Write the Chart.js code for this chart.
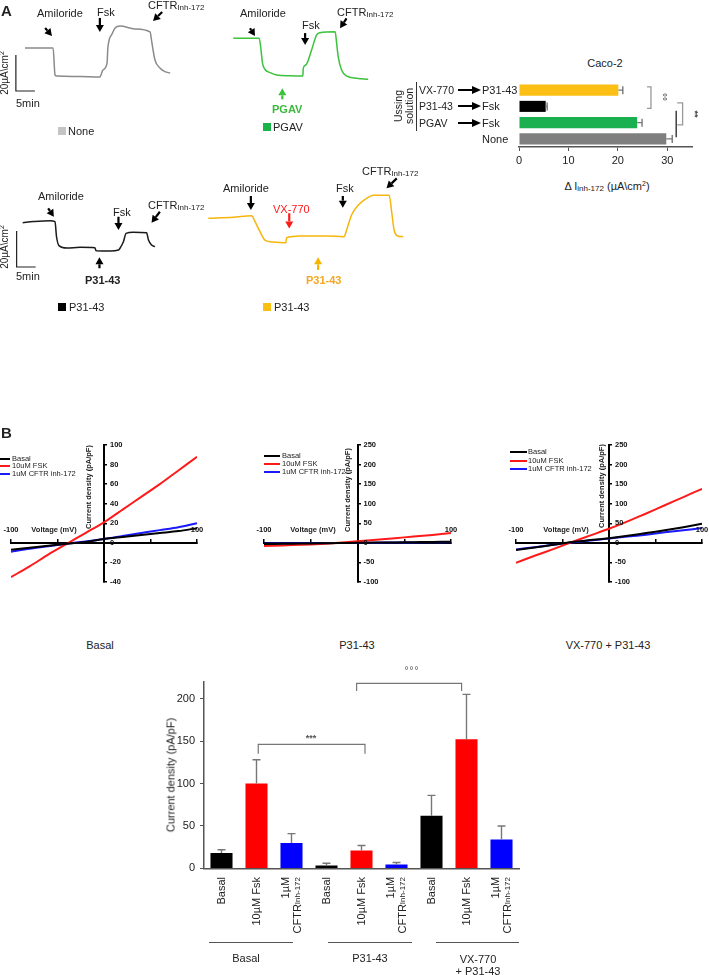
<!DOCTYPE html>
<html>
<head>
<meta charset="utf-8">
<script src="https://cdn.jsdelivr.net/npm/chart.js@4.4.1/dist/chart.umd.min.js"></script>
<style>
body { margin: 0; background: #fff; font-family: "Liberation Sans", Arial, sans-serif; color: #222; }
#fig { position: relative; width: 709px; height: 975px; overflow: hidden; }
canvas { position: absolute; }
.t { position: absolute; white-space: nowrap; font-size: 11px; line-height: 1; transform: translateY(-50%); }
.c { transform: translate(-50%, -50%); }
.rot { transform: translate(-50%, -50%) rotate(-90deg); }
.rot90 { transform: translate(-50%, -50%) rotate(90deg); }
.b { font-weight: bold; }
.s { font-size: 8px; vertical-align: -1px; }
sup { font-size: 7px; vertical-align: 4px; line-height: 0; }
.sq { position: absolute; width: 8px; height: 8px; }
.sw { position: absolute; height: 2px; }
.iv { font-size: 7.5px; }
.ivb { font-size: 7.5px; font-weight: bold; }
.vl { position: absolute; top: 877px; writing-mode: vertical-rl; text-align: end; font-size: 11px; line-height: 1.05; white-space: nowrap; transform: translateX(-50%) rotate(180deg); }
.gl { position: absolute; top: 942px; height: 1px; background: #555; }
.us { font-size: 10.5px; }
svg.ar { position: absolute; }
</style>
</head>
<body>
<div id="fig">
  <canvas id="tr1" width="220" height="120" style="left:0;top:0"></canvas>
  <canvas id="tr2" width="220" height="120" style="left:220px;top:0"></canvas>
  <canvas id="tr3" width="220" height="120" style="left:0;top:170px"></canvas>
  <canvas id="tr4" width="220" height="120" style="left:200px;top:170px"></canvas>
  <canvas id="hbar" width="209" height="105" style="left:500px;top:70px"></canvas>
  <canvas id="iv1" width="210" height="160" style="left:0;top:435px"></canvas>
  <canvas id="iv2" width="215" height="160" style="left:250px;top:435px"></canvas>
  <canvas id="iv3" width="209" height="160" style="left:500px;top:435px"></canvas>
  <canvas id="bars" width="380" height="210" style="left:150px;top:670px"></canvas>

  <!-- panel A, trace 1 -->
  <div class="t b" style="left:1px;top:10px;font-size:15px">A</div>
  <div class="t" style="left:37px;top:13px">Amiloride</div>
  <div class="t" style="left:97px;top:12px">Fsk</div>
  <div class="t" style="left:148px;top:6px">CFTR<span class="s">Inh-172</span></div>
  <div class="t rot" style="left:5px;top:73px;font-size:10px">20µA\cm<sup>2</sup></div>
  <div class="t" style="left:16px;top:103px">5min</div>
  <div class="sq" style="left:58px;top:127px;background:#c4c4c4"></div>
  <div class="t" style="left:68px;top:131px">None</div>

  <!-- trace 2 -->
  <div class="t" style="left:240px;top:13px">Amiloride</div>
  <div class="t" style="left:302px;top:25px">Fsk</div>
  <div class="t" style="left:337px;top:13px">CFTR<span class="s">Inh-172</span></div>
  <div class="t b" style="left:272px;top:109px;color:#3cb83c">PGAV</div>
  <div class="sq" style="left:263px;top:123px;background:#19b34a"></div>
  <div class="t" style="left:273px;top:127px">PGAV</div>

  <!-- Ussing bar chart -->
  <div class="t c" style="left:605px;top:63px">Caco-2</div>
  <div class="t rot us" style="left:398px;top:106px">Ussing</div>
  <div class="t rot us" style="left:409px;top:106px">solution</div>
  <div style="position:absolute;left:416px;top:82px;width:1px;height:49px;background:#333"></div>
  <div class="t us" style="left:419px;top:90px">VX-770</div>
  <div class="t us" style="left:419px;top:106px">P31-43</div>
  <div class="t us" style="left:419px;top:123px">PGAV</div>
  <svg class="ar" style="left:458px;top:86px" width="23" height="8"><path d="M0 4H15" stroke="#000" stroke-width="2"/><path d="M14 0L23 4L14 8Z"/></svg>
  <svg class="ar" style="left:458px;top:102px" width="23" height="8"><path d="M0 4H15" stroke="#000" stroke-width="2"/><path d="M14 0L23 4L14 8Z"/></svg>
  <svg class="ar" style="left:458px;top:119px" width="23" height="8"><path d="M0 4H15" stroke="#000" stroke-width="2"/><path d="M14 0L23 4L14 8Z"/></svg>
  <div class="t" style="left:482px;top:90px">P31-43</div>
  <div class="t" style="left:482px;top:106px">Fsk</div>
  <div class="t" style="left:482px;top:123px">Fsk</div>
  <div class="t" style="left:482px;top:139px">None</div>
  <div class="t rot90 b" style="left:662px;top:97px;font-size:10px;color:#555">°°</div>
  <div class="t rot90 b" style="left:694px;top:114px;font-size:9px;color:#444">**</div>
  <div class="t c" style="left:607px;top:187px">Δ I<span class="s">inh-172</span> (µA\cm<sup>2</sup>)</div>

  <!-- trace 3 -->
  <div class="t" style="left:38px;top:196px">Amiloride</div>
  <div class="t" style="left:113px;top:212px">Fsk</div>
  <div class="t" style="left:148px;top:206px">CFTR<span class="s">Inh-172</span></div>
  <div class="t b" style="left:85px;top:280px">P31-43</div>
  <div class="t rot" style="left:5px;top:247px;font-size:10px">20µA\cm<sup>2</sup></div>
  <div class="t" style="left:16px;top:276px">5min</div>
  <div class="sq" style="left:58px;top:303px;background:#000"></div>
  <div class="t" style="left:69px;top:307px">P31-43</div>

  <!-- trace 4 -->
  <div class="t" style="left:223px;top:188px">Amiloride</div>
  <div class="t" style="left:273px;top:209px;color:#ff1a1a">VX-770</div>
  <div class="t" style="left:336px;top:188px">Fsk</div>
  <div class="t" style="left:362px;top:172px">CFTR<span class="s">Inh-172</span></div>
  <div class="t b" style="left:306px;top:280px;color:#f5a623">P31-43</div>
  <div class="sq" style="left:263px;top:303px;background:#fbbf10"></div>
  <div class="t" style="left:274px;top:307px">P31-43</div>

  <!-- panel B, IV plots -->
  <div class="t b" style="left:1px;top:432px;font-size:15px">B</div>
  <div class="sw" style="left:0;top:458px;width:10px;background:#000"></div><div class="t iv" style="left:12px;top:459px">Basal</div>
  <div class="sw" style="left:0;top:465px;width:10px;background:#ff1a1a"></div><div class="t iv" style="left:12px;top:466px">10uM FSK</div>
  <div class="sw" style="left:0;top:473px;width:10px;background:#1a1aff"></div><div class="t iv" style="left:12px;top:474px">1uM CFTR inh-172</div>
  <div class="t ivb rot" style="left:89px;top:487px">Current density (pA/pF)</div>
  <div class="t ivb c" style="left:54px;top:530px">Voltage (mV)</div>

  <div class="sw" style="left:264px;top:455px;width:16px;background:#000"></div><div class="t iv" style="left:282px;top:456px">Basal</div>
  <div class="sw" style="left:264px;top:463px;width:16px;background:#ff1a1a"></div><div class="t iv" style="left:282px;top:464px">10uM FSK</div>
  <div class="sw" style="left:264px;top:471px;width:16px;background:#1a1aff"></div><div class="t iv" style="left:282px;top:472px">1uM CFTR inh-172</div>
  <div class="t ivb rot" style="left:348px;top:490px">Current density (pA/pF)</div>
  <div class="t ivb c" style="left:313px;top:530px">Voltage (mV)</div>

  <div class="sw" style="left:510px;top:451px;width:17px;background:#000"></div><div class="t iv" style="left:528px;top:452px">Basal</div>
  <div class="sw" style="left:510px;top:460px;width:17px;background:#ff1a1a"></div><div class="t iv" style="left:528px;top:461px">10uM FSK</div>
  <div class="sw" style="left:510px;top:468px;width:17px;background:#1a1aff"></div><div class="t iv" style="left:528px;top:469px">1uM CFTR inh-172</div>
  <div class="t ivb rot" style="left:602px;top:486px">Current density (pA/pF)</div>
  <div class="t ivb c" style="left:566px;top:530px">Voltage (mV)</div>

  <div class="t c" style="left:100px;top:645px">Basal</div>
  <div class="t c" style="left:357px;top:645px">P31-43</div>
  <div class="t c" style="left:608px;top:645px">VX-770 + P31-43</div>

  <!-- bottom bar chart -->
  <div class="t rot" style="left:171px;top:775px">Current density (pA/pF)</div>
  <div class="t c b" style="left:311px;top:738px;font-size:9px;color:#555">***</div>
  <div class="t c" style="left:412px;top:671px;font-size:10px;letter-spacing:1px;color:#555">°°°</div>
  <div id="xlabels"></div>
  <div class="gl" style="left:209px;width:84px"></div>
  <div class="gl" style="left:328px;width:84px"></div>
  <div class="gl" style="left:436px;width:83px"></div>
  <div class="t c" style="left:246px;top:958px">Basal</div>
  <div class="t c" style="left:370px;top:958px">P31-43</div>
  <div class="t c" style="left:478px;top:959px">VX-770</div>
  <div class="t c" style="left:478px;top:971px">+ P31-43</div>
</div>

<script>
// Ussing chamber traces: time (min) and current (µA/cm², relative to start)
const noneTime = [0, 7.4, 7.9, 8.4, 14.5, 19.7, 20.5, 21.6, 21.8, 22.9, 23.7, 25.0, 28.9, 32.9, 33.4, 34.2, 35.5, 36.8, 38.2];
const noneCurrent = [0, 0, -15, -15.6, -15.8, -16.1, -12.2, -8.3, 0, 7.8, 11.1, 12.2, 10.6, 8.9, 2.8, -6.7, -11.1, -13.1, -13.9];

const pgavTime = [0, 6.8, 7.2, 7.7, 8.3, 9.7, 11.4, 14.9, 18.3, 18.4, 19.1, 20.6, 21.9, 22.8, 26.8, 27.2, 27.6, 28.5, 29.8, 32.5, 35.5];
const pgavCurrent = [0, 0, -4.7, -13.9, -17.2, -19.1, -20.4, -20.8, -20.9, -16.7, -14.8, -6.5, 1.8, 3.1, 3.7, -2.8, -10.2, -17.6, -20.9, -22.2, -22.8];

const p31Time = [0, 2.8, 7.2, 8.5, 8.9, 9.6, 11.6, 15.1, 19.0, 19.3, 23.0, 25.2, 25.6, 26.5, 27.2, 29.1, 32.6, 33.1, 33.9, 34.8];
const p31Current = [0, 0.6, 1.1, 0.6, -7.8, -12.9, -14.1, -13.7, -13.9, -15.6, -15.7, -15.2, -14.2, -10.6, -5.9, -5.3, -5.6, -9.6, -12.4, -13.3];

const vxTime = [0, 6.6, 11.4, 12.3, 13.6, 14.9, 17.1, 20.4, 20.6, 24.1, 31.2, 35.7, 36.4, 37.7, 39.5, 41.7, 43.4, 47.6, 48.3, 48.9, 49.8, 51.3];
const vxCurrent = [0, 0.6, 1.4, -1.9, -7.4, -12.1, -13.2, -13.6, -10.8, -9.8, -9.8, -10.2, -6.5, 1.8, 7.4, 11.1, 12.8, 12.8, 2.8, -6.5, -9.8, -10.2];

// scale bars: 20 µA/cm² and 5 min
const bar1Time = [-2.4, -2.4, 2.6];
const bar1Current = [-3.9, -23.9, -23.9];
const bar3Time = [-1.6, -1.6, 3.4];
const bar3Current = [-4.6, -24.6, -24.6];

// Ussing summary (Caco-2)
const hbarLabels = ['VX-770 → P31-43', 'P31-43 → Fsk', 'PGAV → Fsk', 'None'];
const hbarValues = [20.1, 5.4, 23.9, 29.8];
const hbarErrors = [0.9, 0.3, 1.0, 1.2];
const hbarColors = ['#fbbf16', '#000000', '#1aaf4f', '#7f7f7f'];

// I-V curves
const ivVoltage = [-100, -80, -60, -40, -20, 0, 20, 40, 60, 80, 100];
const ivBasalBasal = [-7, -5, -3, -1, 1, 4, 6, 8, 10, 12, 15];
const ivBasalFsk = [-35, -24, -12, -1, 10, 21, 34, 47, 60, 74, 88];
const ivBasalInh = [-9, -6, -3.5, -1, 1.5, 4, 7, 10, 13, 16, 20];
const ivP31Basal = [-3, -2.4, -1.8, -1.2, -0.6, 0, 0.6, 1.2, 1.8, 2.4, 3];
const ivP31Fsk = [-8, -6.5, -5, -3, 0, 4, 8, 12, 16, 20, 25];
const ivP31Inh = [-2, -1.6, -1.2, -0.8, -0.4, 0, 0.4, 0.8, 1.2, 1.6, 2];
const ivVxBasal = [-18, -12, -5, 2, 7, 12, 18, 25, 32, 40, 49];
const ivVxFsk = [-51, -33, -16, 2, 19, 36, 55, 75, 96, 117, 138];
const ivVxInh = [-17, -11, -5, 1, 6, 11, 16, 21, 27, 32, 38];

// whole-cell current density summary
const barLabels = ['Basal', '10µM Fsk', '1µM CFTRInh-172', 'Basal', '10µM Fsk', '1µM CFTRInh-172', 'Basal', '10µM Fsk', '1µM CFTRInh-172'];
const barMeans = [18, 100, 30, 3.5, 21, 4.5, 62, 152, 34];
const barErrors = [4, 28, 11, 2.5, 6, 2.5, 24, 53, 16];
const barColors = ['#000000', '#ff0000', '#0000ff', '#000000', '#ff0000', '#0000ff', '#000000', '#ff0000', '#0000ff'];

Chart.defaults.font.family = '"Liberation Sans", Arial, sans-serif';
Chart.defaults.color = '#222';

const PX_PER_MIN = 3.8;
const PX_PER_UA = 1.8;

function drawArrow(ctx, x1, y1, x2, y2, color) {
    const ang = Math.atan2(y2 - y1, x2 - x1);
    const head = 7, half = 4;
    const bx = x2 - head * Math.cos(ang), by = y2 - head * Math.sin(ang);
    ctx.strokeStyle = color;
    ctx.fillStyle = color;
    ctx.lineWidth = 2.2;
    ctx.beginPath();
    ctx.moveTo(x1, y1);
    ctx.lineTo(bx, by);
    ctx.stroke();
    ctx.beginPath();
    ctx.moveTo(x2, y2);
    ctx.lineTo(bx + half * Math.sin(ang), by - half * Math.cos(ang));
    ctx.lineTo(bx - half * Math.sin(ang), by + half * Math.cos(ang));
    ctx.closePath();
    ctx.fill();
}

// arrows and bracket lines, given in data units
function marksPlugin(spec) {
    return {
        id: 'marks',
        afterDatasetsDraw(chart) {
            const { ctx, scales: { x, y } } = chart;
            ctx.save();
            (spec.arrows || []).forEach(a => {
                drawArrow(ctx, x.getPixelForValue(a.from[0]), y.getPixelForValue(a.from[1]),
                    x.getPixelForValue(a.to[0]), y.getPixelForValue(a.to[1]), a.color || '#000');
            });
            (spec.lines || []).forEach(l => {
                ctx.strokeStyle = l.color;
                ctx.lineWidth = l.width;
                ctx.beginPath();
                l.pts.forEach((p, i) => {
                    const px = x.getPixelForValue(p[0]), py = y.getPixelForValue(p[1]);
                    if (i === 0) ctx.moveTo(px, py); else ctx.lineTo(px, py);
                });
                ctx.stroke();
            });
            ctx.restore();
        }
    };
}

const errorBars = {
    id: 'errorBars',
    afterDatasetsDraw(chart) {
        const ctx = chart.ctx;
        const horizontal = chart.options.indexAxis === 'y';
        const vScale = horizontal ? chart.scales.x : chart.scales.y;
        chart.data.datasets.forEach((ds, di) => {
            if (!ds.errors) return;
            chart.getDatasetMeta(di).data.forEach((bar, i) => {
                const end = vScale.getPixelForValue(ds.data[i] + ds.errors[i]);
                const cap = 4;
                ctx.save();
                ctx.strokeStyle = '#777';
                ctx.lineWidth = 1.4;
                ctx.beginPath();
                if (horizontal) {
                    ctx.moveTo(bar.x, bar.y); ctx.lineTo(end, bar.y);
                    ctx.moveTo(end, bar.y - cap); ctx.lineTo(end, bar.y + cap);
                } else {
                    ctx.moveTo(bar.x, bar.y); ctx.lineTo(bar.x, end);
                    ctx.moveTo(bar.x - cap, end); ctx.lineTo(bar.x + cap, end);
                }
                ctx.stroke();
                ctx.restore();
            });
        });
    }
};

// tick labels of the I-V plots sit right of the y axis and above the x axis ends
const ivLabels = {
    id: 'ivLabels',
    afterDraw(chart) {
        const { ctx, scales: { x, y } } = chart;
        const x0 = x.getPixelForValue(0), y0 = y.getPixelForValue(0);
        ctx.save();
        ctx.font = 'bold 7.5px "Liberation Sans", Arial, sans-serif';
        ctx.fillStyle = '#111';
        ctx.textAlign = 'left';
        ctx.textBaseline = 'middle';
        y.ticks.forEach(t => ctx.fillText(String(t.value), x0 + 6, y.getPixelForValue(t.value)));
        ctx.textAlign = 'center';
        ctx.textBaseline = 'bottom';
        [x.min, x.max].forEach(v => ctx.fillText(String(v), x.getPixelForValue(v), y0 - 9));
        ctx.restore();
    }
};

const noHover = { legend: { display: false }, tooltip: { enabled: false } };

function traceChart(id, time, current, color, origin, arrows, scaleBar) {
    const cv = document.getElementById(id);
    const w = cv.width, h = cv.height;
    const datasets = [{
        data: time.map((t, i) => ({ x: t, y: current[i] })),
        borderColor: color,
        borderWidth: 1.5,
        pointRadius: 0,
        cubicInterpolationMode: 'monotone'
    }];
    if (scaleBar) {
        datasets.push({
            data: scaleBar[0].map((t, i) => ({ x: t, y: scaleBar[1][i] })),
            borderColor: '#222',
            borderWidth: 1.2,
            pointRadius: 0
        });
    }
    new Chart(cv, {
        type: 'line',
        data: { datasets },
        options: {
            responsive: false,
            animation: false,
            events: [],
            plugins: noHover,
            scales: {
                x: { type: 'linear', display: false, min: -origin[0] / PX_PER_MIN, max: (w - origin[0]) / PX_PER_MIN },
                y: { type: 'linear', display: false, min: -(h - origin[1]) / PX_PER_UA, max: origin[1] / PX_PER_UA }
            }
        },
        plugins: [marksPlugin({ arrows })]
    });
}

traceChart('tr1', noneTime, noneCurrent, '#8a8a8a', [25, 48], [
    { from: [5.3, 11.1], to: [7.1, 6.7] },
    { from: [19.7, 16.7], to: [19.7, 8.9] },
    { from: [36.1, 20], to: [33.7, 15] }
], [bar1Time, bar1Current]);

traceChart('tr2', pgavTime, pgavCurrent, '#3cc23c', [13.3, 38.3], [
    { from: [4.4, 5.6], to: [5.7, 1.3] },
    { from: [18.9, 2.9], to: [18.9, -3.7] },
    { from: [29.8, 11.1], to: [28.1, 5.6] },
    { from: [12.9, -33.9], to: [12.9, -27.8], color: '#3cc23c' }
]);

traceChart('tr3', p31Time, p31Current, '#1a1a1a', [22.7, 52.7], [
    { from: [6.7, 8.0], to: [8.2, 3.3] },
    { from: [25.2, 3.3], to: [25.2, -4.1] },
    { from: [36.1, 6.1], to: [33.9, 0] },
    { from: [20.2, -25.3], to: [20.2, -19.2] }
], [bar3Time, bar3Current]);

traceChart('tr4', vxTime, vxCurrent, '#f5b50a', [8.3, 48.3], [
    { from: [11.2, 12.4], to: [11.2, 4.6] },
    { from: [21.3, 2.8], to: [21.3, -5.6], color: '#ff1a1a' },
    { from: [35.4, 12.4], to: [35.4, 5.9] },
    { from: [49.6, 22.2], to: [46.9, 16.7] },
    { from: [28.9, -28.7], to: [28.9, -21.7], color: '#f7b500' }
]);

// Ussing summary bars
new Chart(document.getElementById('hbar'), {
    type: 'bar',
    data: {
        labels: hbarLabels,
        datasets: [{ data: hbarValues, errors: hbarErrors, backgroundColor: hbarColors, barPercentage: 0.68, categoryPercentage: 1 }]
    },
    options: {
        indexAxis: 'y',
        responsive: false,
        animation: false,
        events: [],
        layout: { padding: { left: 19, right: 17, top: 12, bottom: 0 } },
        plugins: noHover,
        scales: {
            x: {
                min: 0, max: 35,
                ticks: { stepSize: 10, padding: 3, font: { size: 11 }, color: '#222' },
                afterBuildTicks: s => { s.ticks = s.ticks.filter(t => t.value % 10 === 0); },
                grid: { drawOnChartArea: false, tickLength: 4, color: '#555' },
                border: { color: '#555', width: 1.5 },
                afterFit: s => { s.height = 28; }
            },
            y: { display: false }
        }
    },
    plugins: [errorBars, marksPlugin({
        lines: [
            { pts: [[25.9, -0.2], [26.7, -0.2], [26.7, 1.12], [25.9, 1.12]], color: '#999', width: 1.3 },
            { pts: [[32.0, 0.78], [33.1, 0.78], [33.1, 2.14], [32.0, 2.14]], color: '#999', width: 1.3 },
            { pts: [[31.8, 1.27], [31.8, 2.9]], color: '#222', width: 1.3 }
        ]
    })]
});

function ivChart(id, yMin, yMax, yStep, basal, fsk, inh, pad) {
    const mk = (vals, color) => ({
        data: ivVoltage.map((v, i) => ({ x: v, y: vals[i] })),
        borderColor: color,
        borderWidth: 2,
        pointRadius: 0,
        tension: 0.3
    });
    new Chart(document.getElementById(id), {
        type: 'line',
        data: { datasets: [mk(basal, '#000000'), mk(fsk, '#ff1a1a'), mk(inh, '#1a1aff')] },
        options: {
            responsive: false,
            animation: false,
            events: [],
            layout: { padding: pad },
            plugins: noHover,
            scales: {
                x: {
                    type: 'linear', min: -100, max: 100, position: { y: 0 },
                    ticks: { display: false, stepSize: 50 },
                    grid: { drawOnChartArea: false, tickLength: -5, color: '#000', lineWidth: 1.5 },
                    border: { color: '#000', width: 2 },
                    afterFit: s => { s.height = 0; }
                },
                y: {
                    type: 'linear', min: yMin, max: yMax, position: { x: 0 },
                    ticks: { display: false, stepSize: yStep },
                    grid: { drawOnChartArea: false, tickLength: -4, color: '#000', lineWidth: 1.5 },
                    border: { color: '#000', width: 2 },
                    afterFit: s => { s.width = 0; }
                }
            }
        },
        plugins: [ivLabels]
    });
}

ivChart('iv1', -40, 100, 20, ivBasalBasal, ivBasalFsk, ivBasalInh, { left: 11, right: 13, top: 10, bottom: 13 });
ivChart('iv2', -100, 250, 50, ivP31Basal, ivP31Fsk, ivP31Inh, { left: 14, right: 14, top: 10, bottom: 13 });
ivChart('iv3', -100, 250, 50, ivVxBasal, ivVxFsk, ivVxInh, { left: 16, right: 7, top: 10, bottom: 13 });

// current density bars
const barsChart = new Chart(document.getElementById('bars'), {
    type: 'bar',
    data: {
        labels: barLabels,
        datasets: [{ data: barMeans, errors: barErrors, backgroundColor: barColors, barPercentage: 0.63, categoryPercentage: 1 }]
    },
    options: {
        responsive: false,
        animation: false,
        events: [],
        layout: { padding: { left: 0, right: 11, top: 11, bottom: 0 } },
        plugins: noHover,
        scales: {
            x: {
                ticks: { display: false },
                grid: { display: false },
                border: { color: '#555', width: 1.5 },
                afterFit: s => { s.height = 11; }
            },
            y: {
                min: 0, max: 220,
                ticks: { stepSize: 50, padding: 5, font: { size: 11 }, color: '#222' },
                afterBuildTicks: s => { s.ticks = s.ticks.filter(t => t.value % 50 === 0); },
                grid: { drawOnChartArea: false, tickLength: 4, color: '#555' },
                border: { color: '#555', width: 1.5 },
                afterFit: s => { s.width = 54; }
            }
        }
    },
    plugins: [errorBars, marksPlugin({
        lines: [
            { pts: [[1.05, 135], [1.05, 146], [4.1, 146], [4.1, 135]], color: '#777', width: 1.2 },
            { pts: [[3.86, 209], [3.86, 218], [6.86, 218], [6.86, 209]], color: '#777', width: 1.2 }
        ]
    })]
});

// rotated category labels under the bars, placed at the library's category positions
const xs = barsChart.scales.x;
const canvasLeft = 150;
document.getElementById('xlabels').innerHTML = barLabels.map((lab, i) => {
    const cx = canvasLeft + xs.getPixelForValue(i);
    const html = lab.startsWith('1µM') ? '1µM<br>CFTR<span class="s">Inh-172</span>' : lab;
    return `<div class="vl" style="left:${cx}px">${html}</div>`;
}).join('');
</script>
</body>
</html>
